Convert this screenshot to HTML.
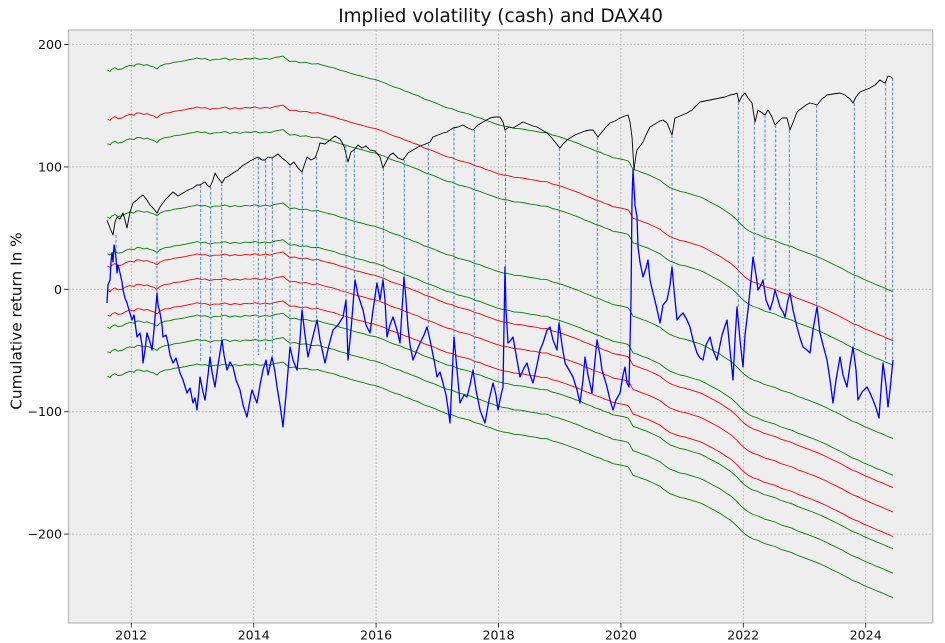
<!DOCTYPE html>
<html><head><meta charset="utf-8"><style>
html,body{margin:0;padding:0;background:#fff;}
svg{display:block;font-family:"DejaVu Sans","Liberation Sans",sans-serif;}
</style></head><body>
<svg width="945" height="643" viewBox="0 0 945 643" xmlns="http://www.w3.org/2000/svg">
<defs>
<clipPath id="ax"><rect x="68.5" y="30" width="864.2" height="593"/></clipPath>
<path id="band" fill="none" d="M107.5,217.1 L110,218.3 112,216 115,214.6 118,216.5 122,215.9 126,213.5 130,212.2 134,213 137,210.8 140,211 144,212.3 147,211.5 150,212.8 154,214 157,215.9 160,213 165,211 170,210.5 174,209.2 180,208.5 185,207.6 190,206.4 194,205.8 197,204.8 201,206 205,205.5 210,207.3 214,206.2 220,206.1 225,205 230,206.8 235,205.6 240,206.7 245,205.4 250,205.9 255,204.8 260,206.3 265,205.2 270,206.1 275,204.4 280,203.6 283,203 286,205.5 290,208.5 295,208 300,209.7 306,209.2 312,211 318,210.6 323,212.2 328,213.5 334,214.8 340,217.1 346,218.6 351,220.3 357,222 363,223.4 370,225.6 375,226.3 380,228.1 385,229.9 390,232.4 395,234.2 400,235.6 405,238 409,239.2 413,241 418,242.6 424,245.8 430,247.7 435,249.6 441,252.3 447,254.7 452,255.6 458,258.3 465,259.9 470,261.2 475,263.6 480,264.8 485,266.9 491,269 497,271.2 503,272.9 508,273.5 514,275.2 520,275.6 525,276.4 530,277.5 536,278.2 541,279.4 547,279.6 552,281.8 558,283.2 565,285.6 570,287.4 575,289.2 580,291 585,293.5 590,295.2 595,297.6 600,299.1 605,301.4 609,302.6 613,304.6 618,305.5 623,306.4 628,307.7 630,310.5 633,316.2 637,317.4 642,319.5 647,321.1 652,323.4 656,325.3 660,327.2 665,331.2 670,334.6 675,336.5 680,338.3 685,339.2 690,340.7 695,342.3 699,343.4 703,345.1 708,347.8 714,351 720,354.2 725,357.6 731,361.5 737,366.9 741,371.3 745,375 749,377.8 753,379.9 758,381.4 764,384.3 770,386 775,387.4 781,390.3 787,392.1 792,393.6 798,396.5 803,398.2 808,400.1 814,402.3 820,404.8 826,407.5 831,410.1 837,412.9 842,415.4 848,418.8 853,421.5 858,423.2 864,426.4 870,428.8 876,431.5 882,433.8 887,436.1 893,438.6"/>
</defs>

<rect x="68.5" y="30" width="864.2" height="593" fill="#eeeeee"/>

<g stroke="#b2b2b2" stroke-width="0.8" stroke-dasharray="2,1.6" fill="none">
<line x1="131.3" y1="30" x2="131.3" y2="623"/>
<line x1="253.7" y1="30" x2="253.7" y2="623"/>
<line x1="376.1" y1="30" x2="376.1" y2="623"/>
<line x1="498.5" y1="30" x2="498.5" y2="623"/>
<line x1="620.9" y1="30" x2="620.9" y2="623"/>
<line x1="743.3" y1="30" x2="743.3" y2="623"/>
<line x1="865.7" y1="30" x2="865.7" y2="623"/>
<line x1="68.5" y1="44.5" x2="932.7" y2="44.5"/>
<line x1="68.5" y1="166.9" x2="932.7" y2="166.9"/>
<line x1="68.5" y1="289.3" x2="932.7" y2="289.3"/>
<line x1="68.5" y1="411.7" x2="932.7" y2="411.7"/>
<line x1="68.5" y1="534.1" x2="932.7" y2="534.1"/>
</g>

<g clip-path="url(#ax)" fill="none" stroke-linejoin="round">
<g stroke-width="0.9">
<use href="#band" stroke="#008000" transform="translate(0,-146.9)"/>
<use href="#band" stroke="#ff0000" transform="translate(0,-97.9)"/>
<use href="#band" stroke="#008000" transform="translate(0,-73.4)"/>
<use href="#band" stroke="#008000"/>
<use href="#band" stroke="#008000" transform="translate(0,36.7)"/>
<use href="#band" stroke="#ff0000" transform="translate(0,49)"/>
<use href="#band" stroke="#ff0000" transform="translate(0,73.4)"/>
<use href="#band" stroke="#ff0000" transform="translate(0,97.9)"/>
<use href="#band" stroke="#008000" transform="translate(0,110.2)"/>
<use href="#band" stroke="#008000" transform="translate(0,134.6)"/>
<use href="#band" stroke="#008000" transform="translate(0,159.1)"/>
</g>

<polyline stroke="#000000" stroke-width="0.9" points="107,220 110,228 113,235 115,222 117,217 120,219 123,213 125,220 127,228 130,212 133,203 137,200 140,197 143,195 147,200 150,205 153,208 157,213 160,207 165,200 170,195 173,192 178,196 183,193 188,190 193,188 197,185 200,185 203,183 205,182 208,186 210,187 213,180 215,173 218,178 222,183 225,178 229,176 233,173 238,170 242,166 247,163 250,161 254,159 258,157 262,160 265,160 268,157 272,158 275,156 278,154 282,158 286,161 290,165 294,162 298,168 302,172 305,163 307,157 311,160 315,158 318,150 320,143 325,144 330,140 335,136 340,139 344,146 348,162 351,152 354,150 358,145 362,148 366,146 370,150 375,151 380,157 383,168 387,160 390,155 393,153 398,158 403,160 408,153 413,150 418,147 423,145 428,143 430,142 433,137 438,135 443,133 447,132 450,130 453,128 458,127 463,125 468,128 473,130 478,125 483,122 490,118 495,117 500,117 503,122 505,130 509,127 513,128 518,125 523,122 528,124 533,126 537,127 542,130 547,133 551,137 555,142 560,148 563,144 567,140 570,138 575,135 580,133 585,131 590,130 593,130 598,137 602,132 606,127 610,123 615,121 620,118 625,116 628,115 630,122 632,137 634,170 636,155 637,150 640,146 643,142 646,135 650,127 655,124 660,121 663,120 667,123 672,135 675,118 680,116 687,113 692,110 696,106 700,102 705,101 710,100 715,99 720,98 725,97 730,95 735,94 737,93 739,102 742,96 745,93 748,98 752,103 755,122 758,110 761,112 765,115 768,110 772,117 775,125 778,122 782,118 787,118 790,130 794,120 797,112 802,108 806,105 810,103 814,104 817,105 822,99 827,95 833,94 840,93 845,95 850,99 853,103 856,97 860,92 865,90 870,88 875,85 880,80 883,82 885,83 888,76 891,77 893,79"/>

<polyline stroke="#0000ff" stroke-width="1.3" points="107,303 108,285 110,280 111,262 112,253 113,262 114,245 115,250 116,258 117,273 118,265 120,273 122,282 123,290 125,298 127,303 129,310 132,320 134,315 137,337 140,333 142,345 143,363 145,350 147,333 150,342 152,350 154,330 157,293 158,305 160,313 162,325 163,337 166,335 168,343 170,355 173,363 176,358 180,373 183,380 187,393 190,388 193,403 195,398 197,410 199,390 200,377 203,392 205,400 208,375 210,357 212,372 215,387 218,365 222,340 224,355 227,370 230,362 233,367 236,380 240,390 243,405 247,417 250,400 252,390 255,398 257,403 260,385 263,370 266,360 268,375 272,357 275,372 277,387 280,405 283,427 286,395 290,347 293,360 297,370 300,340 302,310 305,335 308,357 312,340 317,320 320,340 325,363 329,345 333,330 338,325 343,317 346,300 348,360 351,330 355,280 358,295 363,310 366,325 370,333 373,310 377,283 380,300 383,280 385,300 387,337 390,325 393,317 397,330 400,343 402,310 404,277 406,300 408,327 410,345 413,360 417,350 420,343 424,335 427,327 430,340 432,350 435,365 437,377 440,372 443,383 446,395 448,408 450,423 452,380 454,337 457,370 460,403 464,395 467,397 470,385 473,370 476,390 480,410 483,418 485,423 489,400 493,383 496,395 498,410 501,395 503,387 505,267 506,310 508,343 511,340 513,337 517,360 520,377 524,368 527,363 530,375 533,383 537,365 540,350 543,343 547,330 550,327 553,340 557,350 559,323 562,345 565,363 569,370 573,377 577,390 580,403 583,380 585,357 588,375 592,393 595,360 597,340 600,355 602,370 605,380 607,387 610,400 613,410 616,400 620,393 623,375 625,367 627,383 629,387 631,300 632,200 633,170 635,205 637,217 638,247 640,262 643,277 646,268 648,260 650,280 653,293 656,305 660,323 663,305 667,300 670,285 672,267 674,290 677,320 680,316 683,313 687,320 690,327 693,340 697,353 700,358 703,360 706,345 710,337 713,350 717,360 722,335 727,320 730,350 733,380 735,340 737,307 740,340 743,367 745,335 748,310 751,280 753,257 756,275 758,290 761,285 763,280 766,300 770,310 773,300 775,290 778,300 780,307 783,312 785,317 788,300 790,293 793,310 797,327 800,338 803,347 807,350 810,353 813,330 817,307 819,325 820,333 823,345 827,360 830,380 833,403 836,380 840,357 843,375 847,387 850,365 853,347 856,370 858,400 862,392 867,387 870,393 873,400 876,408 879,418 881,390 883,363 886,385 888,407 890,390 893,360"/>

<g stroke="#3d7cc9" stroke-width="0.9" stroke-dasharray="3,1.8">
<line x1="116" y1="235" x2="116" y2="252"/>
<line x1="157" y1="213" x2="157" y2="293"/>
<line x1="200.7" y1="185" x2="200.7" y2="362"/>
<line x1="210.7" y1="187" x2="210.7" y2="355"/>
<line x1="221.7" y1="183" x2="221.7" y2="340"/>
<line x1="258.3" y1="157" x2="258.3" y2="355"/>
<line x1="265.7" y1="160" x2="265.7" y2="350"/>
<line x1="272.3" y1="158" x2="272.3" y2="358"/>
<line x1="290" y1="165" x2="290" y2="347"/>
<line x1="302.3" y1="172" x2="302.3" y2="310"/>
<line x1="316.7" y1="157" x2="316.7" y2="320"/>
<line x1="346" y1="145" x2="346" y2="300"/>
<line x1="354.3" y1="150" x2="354.3" y2="280"/>
<line x1="383.3" y1="168" x2="383.3" y2="280"/>
<line x1="404.3" y1="160" x2="404.3" y2="277"/>
<line x1="428.3" y1="143" x2="428.3" y2="327"/>
<line x1="454" y1="128" x2="454" y2="337"/>
<line x1="474.3" y1="130" x2="474.3" y2="370"/>
<line x1="505.5" y1="130" x2="505.5" y2="267"/>
<line x1="559.3" y1="148" x2="559.3" y2="323"/>
<line x1="597.3" y1="137" x2="597.3" y2="340"/>
<line x1="672" y1="135" x2="672" y2="267"/>
<line x1="738.3" y1="102" x2="738.3" y2="307"/>
<line x1="754.3" y1="122" x2="754.3" y2="257"/>
<line x1="765" y1="115" x2="765" y2="280"/>
<line x1="775.7" y1="125" x2="775.7" y2="290"/>
<line x1="789.3" y1="130" x2="789.3" y2="293"/>
<line x1="816.7" y1="105" x2="816.7" y2="307"/>
<line x1="854.3" y1="103" x2="854.3" y2="347"/>
<line x1="885.7" y1="83" x2="885.7" y2="363"/>
<line x1="892.7" y1="78" x2="892.7" y2="360"/>
</g>
</g>

<rect x="68.5" y="30" width="864.2" height="593" fill="none" stroke="#bcbcbc" stroke-width="1.3"/>

<g stroke="#222" stroke-width="0.9">
<line x1="64" y1="44.5" x2="68.5" y2="44.5"/>
<line x1="64" y1="166.9" x2="68.5" y2="166.9"/>
<line x1="64" y1="289.3" x2="68.5" y2="289.3"/>
<line x1="64" y1="411.7" x2="68.5" y2="411.7"/>
<line x1="64" y1="534.1" x2="68.5" y2="534.1"/>
<line x1="131.3" y1="623" x2="131.3" y2="627.5"/>
<line x1="253.7" y1="623" x2="253.7" y2="627.5"/>
<line x1="376.1" y1="623" x2="376.1" y2="627.5"/>
<line x1="498.5" y1="623" x2="498.5" y2="627.5"/>
<line x1="620.9" y1="623" x2="620.9" y2="627.5"/>
<line x1="743.3" y1="623" x2="743.3" y2="627.5"/>
<line x1="865.7" y1="623" x2="865.7" y2="627.5"/>
</g>

<g font-size="12.6" fill="#111">
<g text-anchor="end">
<text x="62" y="49">200</text>
<text x="62" y="171.4">100</text>
<text x="62" y="293.8">0</text>
<text x="62" y="416.2">−100</text>
<text x="62" y="538.6">−200</text>
</g>
<g text-anchor="middle">
<text x="131.3" y="639.5">2012</text>
<text x="253.7" y="639.5">2014</text>
<text x="376.1" y="639.5">2016</text>
<text x="498.5" y="639.5">2018</text>
<text x="620.9" y="639.5">2020</text>
<text x="743.3" y="639.5">2022</text>
<text x="865.7" y="639.5">2024</text>
</g>
</g>

<text x="500.6" y="22" font-size="18.4" text-anchor="middle" fill="#111">Implied volatility (cash) and DAX40</text>
<text transform="translate(21.5,321) rotate(-90)" font-size="15.3" text-anchor="middle" fill="#111">Cumulative return In %</text>
</svg>
</body></html>
